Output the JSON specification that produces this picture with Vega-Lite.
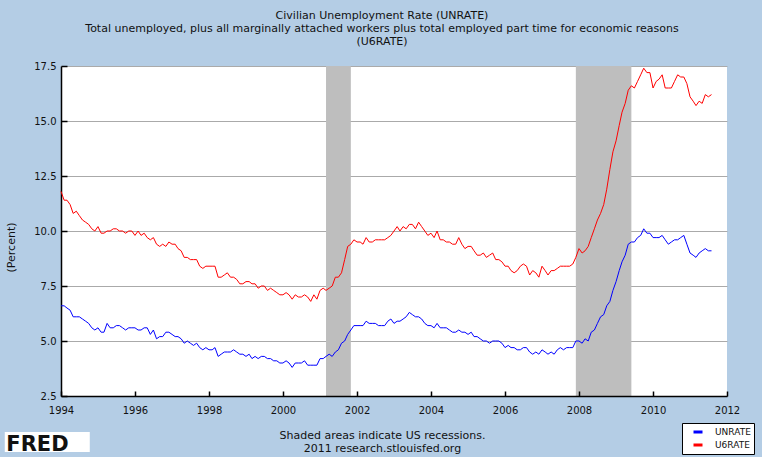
{
  "$schema": "https://vega.github.io/schema/vega-lite/v6.json",
  "width": 666,
  "height": 330,
  "autosize": {"type": "none"},
  "padding": {"left": 61, "top": 66, "right": 35, "bottom": 61},
  "background": "#B4CDE5",
  "config": {
    "font": "DejaVu Sans",
    "view": {"fill": "white", "stroke": null}
  },
  "title": {
    "text": ["Civilian Unemployment Rate (UNRATE)", "Total unemployed, plus all marginally attached workers plus total employed part time for economic reasons", "(U6RATE)"],
    "font": "DejaVu Sans",
    "fontSize": 11,
    "fontWeight": "normal",
    "color": "#111111",
    "lineHeight": 13,
    "anchor": "middle",
    "dx": -12,
    "offset": 14
  },
  "datasets": {
    "recessions": [
      {"start": "2001-03-01", "end": "2001-11-01"},
      {"start": "2007-12-01", "end": "2009-06-01"}
    ],
    "rates": [
      {"date":"1994-01-01","UNRATE":6.6,"U6RATE":11.8},{"date":"1994-02-01","UNRATE":6.6,"U6RATE":11.4},{"date":"1994-03-01","UNRATE":6.5,"U6RATE":11.4},{"date":"1994-04-01","UNRATE":6.4,"U6RATE":11.2},{"date":"1994-05-01","UNRATE":6.1,"U6RATE":10.8},{"date":"1994-06-01","UNRATE":6.1,"U6RATE":10.9},{"date":"1994-07-01","UNRATE":6.1,"U6RATE":10.7},{"date":"1994-08-01","UNRATE":6.0,"U6RATE":10.5},{"date":"1994-09-01","UNRATE":5.9,"U6RATE":10.4},{"date":"1994-10-01","UNRATE":5.8,"U6RATE":10.3},{"date":"1994-11-01","UNRATE":5.6,"U6RATE":10.1},{"date":"1994-12-01","UNRATE":5.5,"U6RATE":10.0},
      {"date":"1995-01-01","UNRATE":5.6,"U6RATE":10.2},{"date":"1995-02-01","UNRATE":5.4,"U6RATE":9.9},{"date":"1995-03-01","UNRATE":5.4,"U6RATE":9.9},{"date":"1995-04-01","UNRATE":5.8,"U6RATE":10.0},{"date":"1995-05-01","UNRATE":5.6,"U6RATE":10.0},{"date":"1995-06-01","UNRATE":5.6,"U6RATE":10.1},{"date":"1995-07-01","UNRATE":5.7,"U6RATE":10.1},{"date":"1995-08-01","UNRATE":5.7,"U6RATE":10.0},{"date":"1995-09-01","UNRATE":5.6,"U6RATE":10.0},{"date":"1995-10-01","UNRATE":5.5,"U6RATE":9.9},{"date":"1995-11-01","UNRATE":5.6,"U6RATE":10.0},{"date":"1995-12-01","UNRATE":5.6,"U6RATE":10.0},
      {"date":"1996-01-01","UNRATE":5.6,"U6RATE":9.8},{"date":"1996-02-01","UNRATE":5.5,"U6RATE":10.0},{"date":"1996-03-01","UNRATE":5.5,"U6RATE":9.8},{"date":"1996-04-01","UNRATE":5.6,"U6RATE":9.9},{"date":"1996-05-01","UNRATE":5.6,"U6RATE":9.7},{"date":"1996-06-01","UNRATE":5.3,"U6RATE":9.6},{"date":"1996-07-01","UNRATE":5.5,"U6RATE":9.7},{"date":"1996-08-01","UNRATE":5.1,"U6RATE":9.4},{"date":"1996-09-01","UNRATE":5.2,"U6RATE":9.3},{"date":"1996-10-01","UNRATE":5.2,"U6RATE":9.4},{"date":"1996-11-01","UNRATE":5.4,"U6RATE":9.3},{"date":"1996-12-01","UNRATE":5.4,"U6RATE":9.5},
      {"date":"1997-01-01","UNRATE":5.3,"U6RATE":9.4},{"date":"1997-02-01","UNRATE":5.2,"U6RATE":9.4},{"date":"1997-03-01","UNRATE":5.2,"U6RATE":9.2},{"date":"1997-04-01","UNRATE":5.1,"U6RATE":9.1},{"date":"1997-05-01","UNRATE":4.9,"U6RATE":8.8},{"date":"1997-06-01","UNRATE":5.0,"U6RATE":8.8},{"date":"1997-07-01","UNRATE":4.9,"U6RATE":8.7},{"date":"1997-08-01","UNRATE":4.8,"U6RATE":8.7},{"date":"1997-09-01","UNRATE":4.9,"U6RATE":8.7},{"date":"1997-10-01","UNRATE":4.7,"U6RATE":8.4},{"date":"1997-11-01","UNRATE":4.6,"U6RATE":8.3},{"date":"1997-12-01","UNRATE":4.7,"U6RATE":8.4},
      {"date":"1998-01-01","UNRATE":4.6,"U6RATE":8.4},{"date":"1998-02-01","UNRATE":4.6,"U6RATE":8.4},{"date":"1998-03-01","UNRATE":4.7,"U6RATE":8.4},{"date":"1998-04-01","UNRATE":4.3,"U6RATE":7.9},{"date":"1998-05-01","UNRATE":4.4,"U6RATE":7.9},{"date":"1998-06-01","UNRATE":4.5,"U6RATE":8.0},{"date":"1998-07-01","UNRATE":4.5,"U6RATE":8.1},{"date":"1998-08-01","UNRATE":4.5,"U6RATE":7.9},{"date":"1998-09-01","UNRATE":4.6,"U6RATE":7.9},{"date":"1998-10-01","UNRATE":4.5,"U6RATE":7.8},{"date":"1998-11-01","UNRATE":4.4,"U6RATE":7.6},{"date":"1998-12-01","UNRATE":4.4,"U6RATE":7.6},
      {"date":"1999-01-01","UNRATE":4.3,"U6RATE":7.7},{"date":"1999-02-01","UNRATE":4.4,"U6RATE":7.7},{"date":"1999-03-01","UNRATE":4.2,"U6RATE":7.6},{"date":"1999-04-01","UNRATE":4.3,"U6RATE":7.6},{"date":"1999-05-01","UNRATE":4.2,"U6RATE":7.4},{"date":"1999-06-01","UNRATE":4.3,"U6RATE":7.5},{"date":"1999-07-01","UNRATE":4.3,"U6RATE":7.5},{"date":"1999-08-01","UNRATE":4.2,"U6RATE":7.3},{"date":"1999-09-01","UNRATE":4.2,"U6RATE":7.4},{"date":"1999-10-01","UNRATE":4.1,"U6RATE":7.3},{"date":"1999-11-01","UNRATE":4.1,"U6RATE":7.2},{"date":"1999-12-01","UNRATE":4.0,"U6RATE":7.1},
      {"date":"2000-01-01","UNRATE":4.0,"U6RATE":7.1},{"date":"2000-02-01","UNRATE":4.1,"U6RATE":7.2},{"date":"2000-03-01","UNRATE":4.0,"U6RATE":7.1},{"date":"2000-04-01","UNRATE":3.8,"U6RATE":6.9},{"date":"2000-05-01","UNRATE":4.0,"U6RATE":7.1},{"date":"2000-06-01","UNRATE":4.0,"U6RATE":7.0},{"date":"2000-07-01","UNRATE":4.0,"U6RATE":7.0},{"date":"2000-08-01","UNRATE":4.1,"U6RATE":7.1},{"date":"2000-09-01","UNRATE":3.9,"U6RATE":7.0},{"date":"2000-10-01","UNRATE":3.9,"U6RATE":6.8},{"date":"2000-11-01","UNRATE":3.9,"U6RATE":7.1},{"date":"2000-12-01","UNRATE":3.9,"U6RATE":6.9},
      {"date":"2001-01-01","UNRATE":4.2,"U6RATE":7.3},{"date":"2001-02-01","UNRATE":4.2,"U6RATE":7.4},{"date":"2001-03-01","UNRATE":4.3,"U6RATE":7.3},{"date":"2001-04-01","UNRATE":4.4,"U6RATE":7.4},{"date":"2001-05-01","UNRATE":4.3,"U6RATE":7.5},{"date":"2001-06-01","UNRATE":4.5,"U6RATE":7.9},{"date":"2001-07-01","UNRATE":4.6,"U6RATE":7.9},{"date":"2001-08-01","UNRATE":4.9,"U6RATE":8.1},{"date":"2001-09-01","UNRATE":5.0,"U6RATE":8.7},{"date":"2001-10-01","UNRATE":5.3,"U6RATE":9.3},{"date":"2001-11-01","UNRATE":5.5,"U6RATE":9.4},{"date":"2001-12-01","UNRATE":5.7,"U6RATE":9.6},
      {"date":"2002-01-01","UNRATE":5.7,"U6RATE":9.5},{"date":"2002-02-01","UNRATE":5.7,"U6RATE":9.5},{"date":"2002-03-01","UNRATE":5.7,"U6RATE":9.4},{"date":"2002-04-01","UNRATE":5.9,"U6RATE":9.7},{"date":"2002-05-01","UNRATE":5.8,"U6RATE":9.5},{"date":"2002-06-01","UNRATE":5.8,"U6RATE":9.5},{"date":"2002-07-01","UNRATE":5.8,"U6RATE":9.6},{"date":"2002-08-01","UNRATE":5.7,"U6RATE":9.6},{"date":"2002-09-01","UNRATE":5.7,"U6RATE":9.6},{"date":"2002-10-01","UNRATE":5.7,"U6RATE":9.6},{"date":"2002-11-01","UNRATE":5.9,"U6RATE":9.7},{"date":"2002-12-01","UNRATE":6.0,"U6RATE":9.8},
      {"date":"2003-01-01","UNRATE":5.8,"U6RATE":10.0},{"date":"2003-02-01","UNRATE":5.9,"U6RATE":10.2},{"date":"2003-03-01","UNRATE":5.9,"U6RATE":10.0},{"date":"2003-04-01","UNRATE":6.0,"U6RATE":10.2},{"date":"2003-05-01","UNRATE":6.1,"U6RATE":10.1},{"date":"2003-06-01","UNRATE":6.3,"U6RATE":10.3},{"date":"2003-07-01","UNRATE":6.2,"U6RATE":10.3},{"date":"2003-08-01","UNRATE":6.1,"U6RATE":10.1},{"date":"2003-09-01","UNRATE":6.1,"U6RATE":10.4},{"date":"2003-10-01","UNRATE":6.0,"U6RATE":10.2},{"date":"2003-11-01","UNRATE":5.8,"U6RATE":10.0},{"date":"2003-12-01","UNRATE":5.7,"U6RATE":9.8},
      {"date":"2004-01-01","UNRATE":5.7,"U6RATE":9.9},{"date":"2004-02-01","UNRATE":5.6,"U6RATE":9.7},{"date":"2004-03-01","UNRATE":5.8,"U6RATE":10.0},{"date":"2004-04-01","UNRATE":5.6,"U6RATE":9.6},{"date":"2004-05-01","UNRATE":5.6,"U6RATE":9.6},{"date":"2004-06-01","UNRATE":5.6,"U6RATE":9.5},{"date":"2004-07-01","UNRATE":5.5,"U6RATE":9.5},{"date":"2004-08-01","UNRATE":5.4,"U6RATE":9.4},{"date":"2004-09-01","UNRATE":5.4,"U6RATE":9.4},{"date":"2004-10-01","UNRATE":5.5,"U6RATE":9.7},{"date":"2004-11-01","UNRATE":5.4,"U6RATE":9.4},{"date":"2004-12-01","UNRATE":5.4,"U6RATE":9.2},
      {"date":"2005-01-01","UNRATE":5.3,"U6RATE":9.3},{"date":"2005-02-01","UNRATE":5.4,"U6RATE":9.3},{"date":"2005-03-01","UNRATE":5.2,"U6RATE":9.1},{"date":"2005-04-01","UNRATE":5.2,"U6RATE":8.9},{"date":"2005-05-01","UNRATE":5.1,"U6RATE":8.9},{"date":"2005-06-01","UNRATE":5.0,"U6RATE":9.0},{"date":"2005-07-01","UNRATE":5.0,"U6RATE":8.8},{"date":"2005-08-01","UNRATE":4.9,"U6RATE":8.9},{"date":"2005-09-01","UNRATE":5.0,"U6RATE":9.0},{"date":"2005-10-01","UNRATE":5.0,"U6RATE":8.7},{"date":"2005-11-01","UNRATE":5.0,"U6RATE":8.7},{"date":"2005-12-01","UNRATE":4.9,"U6RATE":8.6},
      {"date":"2006-01-01","UNRATE":4.7,"U6RATE":8.4},{"date":"2006-02-01","UNRATE":4.8,"U6RATE":8.4},{"date":"2006-03-01","UNRATE":4.7,"U6RATE":8.2},{"date":"2006-04-01","UNRATE":4.7,"U6RATE":8.1},{"date":"2006-05-01","UNRATE":4.6,"U6RATE":8.2},{"date":"2006-06-01","UNRATE":4.6,"U6RATE":8.4},{"date":"2006-07-01","UNRATE":4.7,"U6RATE":8.5},{"date":"2006-08-01","UNRATE":4.7,"U6RATE":8.4},{"date":"2006-09-01","UNRATE":4.5,"U6RATE":8.0},{"date":"2006-10-01","UNRATE":4.4,"U6RATE":8.2},{"date":"2006-11-01","UNRATE":4.5,"U6RATE":8.1},{"date":"2006-12-01","UNRATE":4.4,"U6RATE":7.9},
      {"date":"2007-01-01","UNRATE":4.6,"U6RATE":8.4},{"date":"2007-02-01","UNRATE":4.5,"U6RATE":8.2},{"date":"2007-03-01","UNRATE":4.4,"U6RATE":8.0},{"date":"2007-04-01","UNRATE":4.5,"U6RATE":8.2},{"date":"2007-05-01","UNRATE":4.4,"U6RATE":8.2},{"date":"2007-06-01","UNRATE":4.6,"U6RATE":8.3},{"date":"2007-07-01","UNRATE":4.7,"U6RATE":8.4},{"date":"2007-08-01","UNRATE":4.6,"U6RATE":8.4},{"date":"2007-09-01","UNRATE":4.7,"U6RATE":8.4},{"date":"2007-10-01","UNRATE":4.7,"U6RATE":8.4},{"date":"2007-11-01","UNRATE":4.7,"U6RATE":8.5},{"date":"2007-12-01","UNRATE":5.0,"U6RATE":8.8},
      {"date":"2008-01-01","UNRATE":5.0,"U6RATE":9.2},{"date":"2008-02-01","UNRATE":4.9,"U6RATE":9.0},{"date":"2008-03-01","UNRATE":5.1,"U6RATE":9.1},{"date":"2008-04-01","UNRATE":5.0,"U6RATE":9.3},{"date":"2008-05-01","UNRATE":5.4,"U6RATE":9.7},{"date":"2008-06-01","UNRATE":5.5,"U6RATE":10.1},{"date":"2008-07-01","UNRATE":5.8,"U6RATE":10.5},{"date":"2008-08-01","UNRATE":6.1,"U6RATE":10.8},{"date":"2008-09-01","UNRATE":6.2,"U6RATE":11.2},{"date":"2008-10-01","UNRATE":6.6,"U6RATE":11.9},{"date":"2008-11-01","UNRATE":6.8,"U6RATE":12.8},{"date":"2008-12-01","UNRATE":7.3,"U6RATE":13.6},
      {"date":"2009-01-01","UNRATE":7.7,"U6RATE":14.1},{"date":"2009-02-01","UNRATE":8.2,"U6RATE":14.8},{"date":"2009-03-01","UNRATE":8.6,"U6RATE":15.4},{"date":"2009-04-01","UNRATE":8.9,"U6RATE":15.8},{"date":"2009-05-01","UNRATE":9.4,"U6RATE":16.4},{"date":"2009-06-01","UNRATE":9.5,"U6RATE":16.6},{"date":"2009-07-01","UNRATE":9.5,"U6RATE":16.5},{"date":"2009-08-01","UNRATE":9.7,"U6RATE":16.8},{"date":"2009-09-01","UNRATE":9.8,"U6RATE":17.1},{"date":"2009-10-01","UNRATE":10.1,"U6RATE":17.4},{"date":"2009-11-01","UNRATE":9.9,"U6RATE":17.2},{"date":"2009-12-01","UNRATE":9.9,"U6RATE":17.2},
      {"date":"2010-01-01","UNRATE":9.7,"U6RATE":16.5},{"date":"2010-02-01","UNRATE":9.7,"U6RATE":16.8},{"date":"2010-03-01","UNRATE":9.7,"U6RATE":16.9},{"date":"2010-04-01","UNRATE":9.8,"U6RATE":17.1},{"date":"2010-05-01","UNRATE":9.6,"U6RATE":16.5},{"date":"2010-06-01","UNRATE":9.4,"U6RATE":16.5},{"date":"2010-07-01","UNRATE":9.5,"U6RATE":16.5},{"date":"2010-08-01","UNRATE":9.6,"U6RATE":16.8},{"date":"2010-09-01","UNRATE":9.6,"U6RATE":17.1},{"date":"2010-10-01","UNRATE":9.7,"U6RATE":17.0},{"date":"2010-11-01","UNRATE":9.8,"U6RATE":17.0},{"date":"2010-12-01","UNRATE":9.4,"U6RATE":16.7},
      {"date":"2011-01-01","UNRATE":9.0,"U6RATE":16.1},{"date":"2011-02-01","UNRATE":8.9,"U6RATE":15.9},{"date":"2011-03-01","UNRATE":8.8,"U6RATE":15.7},{"date":"2011-04-01","UNRATE":9.0,"U6RATE":15.9},{"date":"2011-05-01","UNRATE":9.1,"U6RATE":15.8},{"date":"2011-06-01","UNRATE":9.2,"U6RATE":16.2},{"date":"2011-07-01","UNRATE":9.1,"U6RATE":16.1},{"date":"2011-08-01","UNRATE":9.1,"U6RATE":16.2}
    ],
    "logo": [{"label": "FRED", "x1": "1992-06-25", "x2": "1994-10-12", "y1": 0.86, "y2": -0.05, "tx": "1992-07-10", "ty": 0.02}]
  },
  "layer": [
    {
      "data": {"name": "recessions"},
      "mark": {"type": "rect", "color": "#BEBEBE"},
      "encoding": {
        "x": {"field": "start", "type": "temporal",
              "scale": {"domain": [{"year": 1994, "month": 1, "date": 1}, {"year": 2012, "month": 1, "date": 1}]},
              "axis": {
                "values": [{"year":1994,"month":1,"date":1},{"year":1996,"month":1,"date":1},{"year":1998,"month":1,"date":1},{"year":2000,"month":1,"date":1},{"year":2002,"month":1,"date":1},{"year":2004,"month":1,"date":1},{"year":2006,"month":1,"date":1},{"year":2008,"month":1,"date":1},{"year":2010,"month":1,"date":1},{"year":2012,"month":1,"date":1}],
                "format": "%Y",
                "grid": false,
                "zindex": 1,
                "domainColor": "#000000",
                "domainWidth": 1.5,
                "tickColor": "#000000",
                "tickWidth": 1.5,
                "tickSize": -5,
                "labelPadding": 14,
                "labelFontSize": 10,
                "labelColor": "#111111",
                "labelFlush": false,
                "title": ["Shaded areas indicate US recessions.", "2011 research.stlouisfed.org"],
                "titleFontSize": 11,
                "titleFontWeight": "normal",
                "titleColor": "#111111",
                "titleLineHeight": 13,
                "titleX": 321,
                "titleY": 33,
                "titleAlign": "center",
                "titleBaseline": "top",
                "titleAnchor": null
              }},
        "x2": {"field": "end"}
      }
    },
    {
      "data": {"name": "rates"},
      "transform": [{"fold": ["UNRATE", "U6RATE"], "as": ["series", "value"]}],
      "mark": {"type": "line", "strokeWidth": 1, "interpolate": "linear"},
      "encoding": {
        "x": {"field": "date", "type": "temporal"},
        "y": {"field": "value", "type": "quantitative",
              "scale": {"domain": [2.5, 17.5], "nice": false, "zero": false},
              "axis": {
                "values": [2.5, 5, 7.5, 10, 12.5, 15, 17.5],
                "format": ".1f",
                "grid": true,
                "gridColor": "#AAAAAA",
                "gridWidth": 1,
                "domainColor": "#000000",
                "domainWidth": 1.5,
                "tickColor": "#000000",
                "tickWidth": 1.5,
                "tickSize": -6,
                "labelPadding": 11,
                "labelFontSize": 10,
                "labelColor": "#111111",
                "labelFlush": false,
                "title": "(Percent)",
                "titleFontSize": 11,
                "titleFontWeight": "normal",
                "titleColor": "#111111",
                "titleX": -50,
                "titleY": 181,
                "titleAlign": "center",
                "titleBaseline": "middle",
                "titleAngle": 270
              }},
        "color": {
          "field": "series", "type": "nominal",
          "scale": {"domain": ["UNRATE", "U6RATE"], "range": ["#0000FF", "#FF0000"]},
          "legend": {
            "orient": "none",
            "legendX": 621,
            "legendY": 357,
            "title": null,
            "direction": "vertical",
            "fillColor": "#FFFFFF",
            "strokeColor": "#000000",
            "padding": 3,
            "symbolType": "stroke",
            "symbolSize": 81,
            "symbolStrokeWidth": 3,
            "symbolOffset": 7,
            "labelOffset": 11,
            "labelFontSize": 9,
            "labelColor": "#111111",
            "rowPadding": 1,
            "labelExpr": "datum.label + '\u00a0\u00a0'"
          }
        }
      }
    },
    {
      "data": {"name": "logo"},
      "mark": {"type": "rect", "color": "#FFFFFF", "clip": false},
      "encoding": {
        "x": {"field": "x1", "type": "temporal"},
        "x2": {"field": "x2"},
        "y": {"field": "y1", "type": "quantitative"},
        "y2": {"field": "y2"}
      }
    },
    {
      "data": {"name": "logo"},
      "mark": {"type": "text", "font": "DejaVu Sans", "fontWeight": "bold", "fontSize": 21, "align": "left", "baseline": "alphabetic", "color": "#111111", "clip": false},
      "encoding": {
        "x": {"field": "tx", "type": "temporal"},
        "y": {"field": "ty", "type": "quantitative"},
        "text": {"field": "label"}
      }
    }
  ]
}
